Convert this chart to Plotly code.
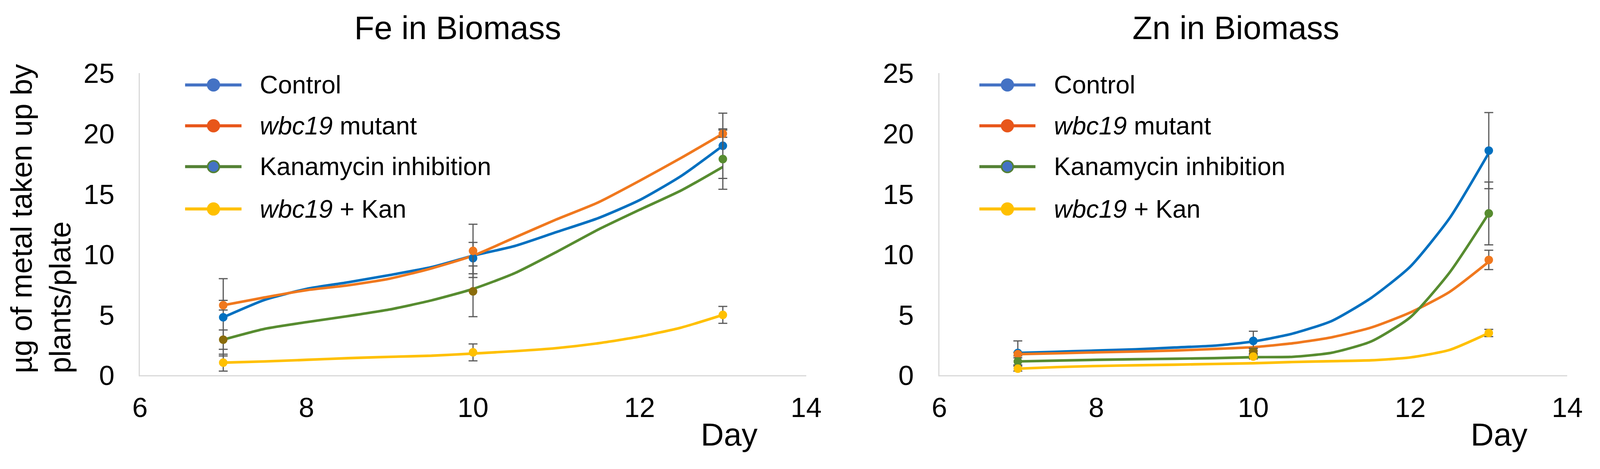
import plotly.graph_objects as go

# dias medidos (marcadores) y dias de la curva suavizada
DIAS = [7, 10, 13]
DIAS_CURVA = [7, 7.5, 8, 8.5, 9, 9.5, 10, 10.5, 11, 11.5, 12, 12.5, 13]

NOMBRES = ["Control", "<i>wbc19</i> mutant", "Kanamycin inhibition", "<i>wbc19</i> + Kan"]

# Fe - valores medidos y error
fe_control = [4.8, 9.7, 19.0]
fe_control_err = [3.2, 1.3, 2.7]
fe_mutant = [5.8, 10.3, 20.0]
fe_mutant_err = [0.4, 2.2, 0.3]
fe_kan = [2.95, 6.95, 17.9]
fe_kan_err = [0.8, 2.1, 2.5]
fe_wbc_kan = [1.05, 1.9, 5.0]
fe_wbc_kan_err = [0.7, 0.7, 0.7]

# Fe - curvas de tendencia
fe_control_curva = [4.8, 6.25, 7.15, 7.7, 8.3, 8.95, 9.9, 10.7, 11.85, 13.0, 14.5, 16.5, 19.0]
fe_mutant_curva = [5.8, 6.45, 7.05, 7.45, 8.0, 8.85, 9.9, 11.4, 12.9, 14.3, 16.1, 18.0, 20.0]
fe_kan_curva = [2.95, 3.85, 4.4, 4.9, 5.45, 6.2, 7.15, 8.45, 10.2, 12.05, 13.7, 15.3, 17.25]
fe_wbc_kan_curva = [1.05, 1.15, 1.28, 1.42, 1.53, 1.62, 1.8, 2.0, 2.25, 2.65, 3.2, 3.95, 5.0]

# Zn - valores medidos y error
zn_control = [1.85, 2.85, 18.6]
zn_control_err = [1.0, 0.8, 3.15]
zn_mutant = [1.75, 2.0, 9.55]
zn_mutant_err = [0.15, 0.2, 0.8]
zn_kan = [1.15, 1.95, 13.4]
zn_kan_err = [0.3, 0.3, 2.6]
zn_wbc_kan = [0.55, 1.55, 3.5]
zn_wbc_kan_err = [0.2, 0.2, 0.3]

# Zn - curvas de tendencia
zn_control_curva = [1.85, 1.95, 2.05, 2.15, 2.3, 2.45, 2.8, 3.45, 4.5, 6.4, 9.0, 13.0, 18.4]
zn_mutant_curva = [1.75, 1.82, 1.9, 1.97, 2.05, 2.18, 2.33, 2.65, 3.15, 3.95, 5.2, 6.9, 9.4]
zn_kan_curva = [1.15, 1.22, 1.28, 1.33, 1.37, 1.42, 1.5, 1.53, 1.87, 2.8, 4.8, 8.5, 13.4]
zn_wbc_kan_curva = [0.55, 0.68, 0.77, 0.83, 0.88, 0.94, 1.0, 1.1, 1.17, 1.24, 1.48, 2.1, 3.5]

# tamaño de referencia (las posiciones se pasan a fracciones del papel)
W, H = 4331, 1200
K = 0.95  # correccion de tamaños en px (la ventana es algo mas estrecha en px css)
FUENTE = "Liberation Sans, Arial, sans-serif"

COLORES = ["#0070C0", "#F0781E", "#578C30", "#FFC000"]
COLOR_OLIVA = "#8A6C0C"
COLORES_LEYENDA = ["#4472C4", "#E8561A", "#548235", "#FFC000"]

fig = go.Figure()

paneles = [
    ("x", "y",
     [fe_control_curva, fe_mutant_curva, fe_kan_curva, fe_wbc_kan_curva],
     [fe_control, fe_mutant, fe_kan, fe_wbc_kan],
     [fe_control_err, fe_mutant_err, fe_kan_err, fe_wbc_kan_err],
     [COLOR_OLIVA, COLOR_OLIVA, COLORES[2]]),
    ("x2", "y2",
     [zn_control_curva, zn_mutant_curva, zn_kan_curva, zn_wbc_kan_curva],
     [zn_control, zn_mutant, zn_kan, zn_wbc_kan],
     [zn_control_err, zn_mutant_err, zn_kan_err, zn_wbc_kan_err],
     [COLORES[2], COLOR_OLIVA, COLORES[2]]),
]

for xa, ya, curvas, valores, errores, color_kan in paneles:
    # curvas suavizadas
    for i, curva in enumerate(curvas):
        fig.add_trace(go.Scatter(
            x=DIAS_CURVA, y=curva, mode="lines", xaxis=xa, yaxis=ya,
            line=dict(color=COLORES[i], width=7 * K, shape="spline", smoothing=0.6),
            showlegend=False, hoverinfo="skip"))
    # marcadores con barras de error
    for i, vals in enumerate(valores):
        col = color_kan if i == 2 else COLORES[i]
        fig.add_trace(go.Scatter(
            x=DIAS, y=vals, mode="markers", xaxis=xa, yaxis=ya,
            marker=dict(color=col, size=23 * K),
            error_y=dict(type="data", array=errores[i], visible=True,
                         color="#595959", thickness=3, width=12 * K),
            name=NOMBRES[i], showlegend=False))

ejes = dict(range=[6, 14], dtick=2, showline=True, linecolor="#D9D9D9", linewidth=3,
            showgrid=False, zeroline=False, ticks="", ticklabelstandoff=18,
            tickfont=dict(size=75 * K, color="black", family=FUENTE))
ejes_y = dict(range=[0, 25], dtick=5, showline=True, linecolor="#D9D9D9", linewidth=3,
              showgrid=False, zeroline=False, ticks="", ticklabelstandoff=48,
              tickfont=dict(size=75 * K, color="black", family=FUENTE))

fig.update_layout(
    autosize=True,
    margin=dict(l=0, r=0, t=0, b=0),
    plot_bgcolor="white", paper_bgcolor="white",
    font=dict(family=FUENTE, color="black"),
    xaxis=dict(domain=[363 / W, 2193 / W], anchor="y", **ejes),
    yaxis=dict(domain=[1 - 986 / H, 1 - 158 / H], anchor="x", **ejes_y),
    xaxis2=dict(domain=[2559 / W, 4284 / W], anchor="y2", **ejes),
    yaxis2=dict(domain=[1 - 986 / H, 1 - 158 / H], anchor="x2", **ejes_y),
)

# leyendas dibujadas a mano (linea larga con marcador, como en Excel)
filas = [190, 302, 414, 530]
for x0, xm, x1, xt in [(487, 565, 642, 690), (2669, 2746, 2823, 2872)]:
    for i, fy in enumerate(filas):
        fig.add_shape(type="line", xref="paper", yref="paper",
                      x0=x0 / W, x1=x1 / W, y0=1 - fy / H, y1=1 - fy / H,
                      line=dict(color=COLORES_LEYENDA[i], width=8 * K))
        relleno = "#4472C4" if i == 2 else COLORES_LEYENDA[i]
        fig.add_shape(type="circle", xref="paper", yref="paper",
                      x0=(xm - 16) / W, x1=(xm + 16) / W,
                      y0=1 - (fy + 16) / H, y1=1 - (fy - 16) / H,
                      fillcolor=relleno, line=dict(color=COLORES_LEYENDA[i], width=4))
        fig.add_annotation(x=xt / W, y=1 - fy / H, xref="paper", yref="paper",
                           xanchor="left", yanchor="middle", showarrow=False,
                           text=NOMBRES[i], font=dict(size=68 * K, family=FUENTE))

# titulos
for texto, cx in [("Fe in Biomass", 1236), ("Zn in Biomass", 3374)]:
    fig.add_annotation(x=cx / W, y=1 - 33 / H, xref="paper", yref="paper",
                       xanchor="center", yanchor="middle", showarrow=False,
                       text=texto, font=dict(size=88 * K, family=FUENTE))

# etiqueta "Day"
for cx in [1982, 4096]:
    fig.add_annotation(x=cx / W, y=1 - 1148 / H, xref="paper", yref="paper",
                       xanchor="center", yanchor="middle", showarrow=False,
                       text="Day", font=dict(size=86 * K, family=FUENTE))

# titulo del eje y (alineado abajo)
fig.add_annotation(x=91 / W, y=1 - 983 / H, xref="paper", yref="paper",
                   xanchor="center", yanchor="bottom", showarrow=False, textangle=-90,
                   align="left", text="µg of metal taken up by<br>plants/plate",
                   font=dict(size=80 * K, family=FUENTE))

# la figura ocupa toda la ventana, sin margen del body
ajuste = ("document.body.style.margin='0';document.body.style.overflow='hidden';"
          "Plotly.Plots.resize(document.getElementById('{plot_id}'));")
fig.write_html("out.html", default_width="100vw", default_height="100vh",
               config={"responsive": True, "displayModeBar": False}, post_script=ajuste)
